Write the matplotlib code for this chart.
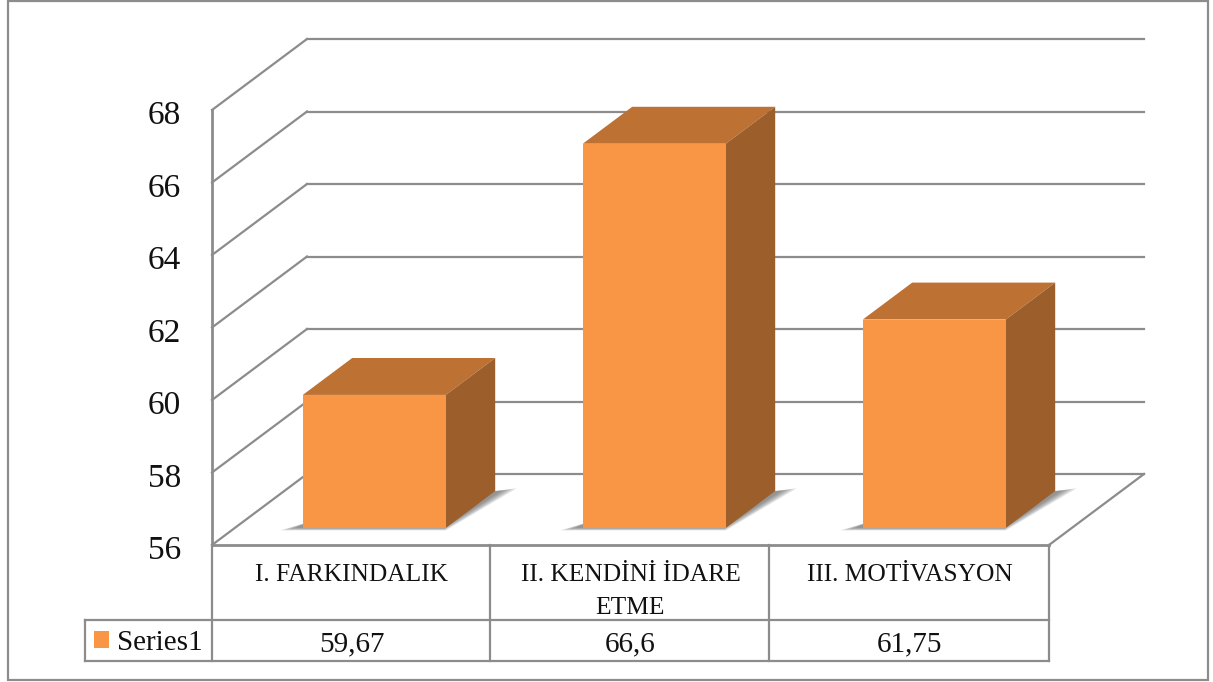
import matplotlib
matplotlib.use("Agg")
import matplotlib.pyplot as plt
from matplotlib.patches import Polygon, Rectangle
from matplotlib.lines import Line2D
from matplotlib.transforms import Affine2D, ScaledTranslation

categories = ["I. FARKINDALIK", "II. KENDİNİ İDARE\nETME", "III. MOTİVASYON"]
series_name = "Series1"
values = [59.67, 66.6, 61.75]
value_labels = ["59,67", "66,6", "61,75"]
y_ticks = [56, 58, 60, 62, 64, 66, 68]

W, H = 1213, 682
plt.rcParams["font.family"] = ["Liberation Serif", "DejaVu Serif"]
fig = plt.figure(figsize=(W / 100, H / 100), dpi=100, facecolor="white")
ax = fig.add_axes([212 / W, 1 - 545 / H, (1049 - 212) / W, (545 - 110) / H])
ax.set_xlim(0, len(categories))
ax.set_ylim(y_ticks[0], y_ticks[-1])
ax.patch.set_visible(False)

GRID = "#8c8c8c"
FRONT, TOP, SIDE = "#F99646", "#BD7133", "#9C5E2A"
DX = 95 / 279     # depth of the plot box, in x data units
DY = 71 / 36.25   # depth of the plot box, in y data units


def p(x, y, d=0.0):
    return (x + d * DX, y + d * DY)


px = Affine2D().scale(1 / W, -1 / H).translate(0, 1) + fig.transFigure


def pline(xs, ys, lw=1.6, z=1):
    fig.add_artist(Line2D(xs, ys, transform=px, color=GRID, lw=lw, zorder=z))


# outer frame
fig.add_artist(Rectangle((8, 1), 1200, 679, transform=px, fc="none", ec=GRID, lw=1.6))

# walls and grid
x_end = len(categories)
for t in y_ticks:
    a, b = p(0, t), p(0, t, 1)
    ax.plot([a[0], b[0]], [a[1], b[1]], color=GRID, lw=1.6, clip_on=False, zorder=1)
    c = p(x_end, t, 1)
    ax.plot([b[0], c[0]], [b[1], c[1]], color=GRID, lw=1.6, clip_on=False, zorder=1)
a, b = p(x_end, y_ticks[0]), p(x_end, y_ticks[0], 1)
ax.plot([a[0], b[0]], [a[1], b[1]], color=GRID, lw=1.6, clip_on=False, zorder=1)

# bars
bar_w = 0.5125
step = 280 / 279
d0, d1 = 0.24, 0.76
base = y_ticks[0]
for i, v in enumerate(values):
    left = i * step + 0.5 - bar_w / 2
    right = left + bar_w
    # soft floor shadow
    for k in range(7):
        g = k * 2.0 / 279
        shadow = [p(left - 0.07 + g, base, d0 - 0.035 + k * 0.006),
                  p(left, base, d0 + 0.1),
                  p(right, base, d1),
                  p(right + 0.065 - g, base, d1 + 0.04 - k * 0.006),
                  p(right + 0.012 - g / 2, base, d0 - 0.035 + k * 0.006)]
        ax.add_patch(Polygon(shadow, closed=True, fc="#505050", ec="none",
                             alpha=0.12, clip_on=False, zorder=2))
    ax.add_patch(Polygon([p(left, v, d0), p(right, v, d0), p(right, v, d1), p(left, v, d1)],
                         closed=True, fc=TOP, ec="none", clip_on=False, zorder=3))
    ax.add_patch(Polygon([p(right, base, d0), p(right, v, d0), p(right, v, d1), p(right, base, d1)],
                         closed=True, fc=SIDE, ec="none", clip_on=False, zorder=3))
    ax.add_patch(Polygon([p(left, base, d0), p(right, base, d0), p(right, v, d0), p(left, v, d0)],
                         closed=True, fc=FRONT, ec="none", clip_on=False, zorder=4))

# axes
for name in ("top", "right"):
    ax.spines[name].set_visible(False)
for name in ("left", "bottom"):
    ax.spines[name].set_color(GRID)
    ax.spines[name].set_linewidth(2)
    ax.spines[name].set_zorder(5)
ax.set_xticks([])
ax.set_yticks(y_ticks)
ax.tick_params(axis="y", length=0, pad=22.5, labelsize=24, labelcolor="#111111")
shift = ScaledTranslation(0, -2.5 / 100, fig.dpi_scale_trans)
for lab in ax.get_yticklabels():
    lab.set_transform(lab.get_transform() + shift)

# data table
for xp in (212, 490, 769, 1049):
    pline([xp, xp], [545, 661])
pline([85, 1049], [620, 620])
pline([85, 1049], [661, 661])
pline([85, 85], [620, 661])

for i, (c, s) in enumerate(zip(categories, value_labels)):
    xt = i + 0.5
    ax.annotate(c, xy=(xt, 0), xycoords=("data", "axes fraction"), xytext=(0, -13.5),
                textcoords="offset points", ha="center", va="top", fontsize=18.4,
                color="#111111", linespacing=1.65, annotation_clip=False)
    ax.annotate(s, xy=(xt, 0), xycoords=("data", "axes fraction"), xytext=(0, -71.5),
                textcoords="offset points", ha="center", va="center", fontsize=21,
                color="#111111", annotation_clip=False)

handle = Rectangle((0, 0), 1, 1, fc=FRONT, ec="none")
ax.legend([handle], [series_name], loc="center", bbox_to_anchor=(148.5, 643), frameon=False,
          fontsize=21, handlelength=0.53, handleheight=0.53, handletextpad=0.27,
          borderpad=0, labelcolor="#111111", bbox_transform=px)

fig.savefig("out.png", dpi=100)
